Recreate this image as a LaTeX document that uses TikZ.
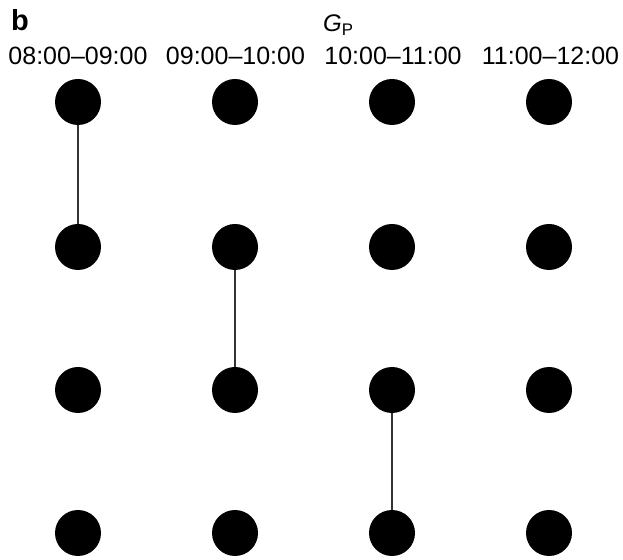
\documentclass[tikz,border=0pt]{standalone}
\usepackage{fontspec}
\setmainfont{Liberation Sans}
\begin{document}
\begin{tikzpicture}[x=1pt,y=1pt,
  dot/.style={circle,fill=black,minimum size=46pt,inner sep=0pt},
  lbl/.style={font=\fontsize{25}{30}\selectfont,inner sep=0pt,anchor=base},
  link/.style={line width=1.5pt,black!80}]
\useasboundingbox (0,0) rectangle (623,559);
\node[font=\fontsize{29}{34}\selectfont\bfseries,anchor=base west,inner sep=0pt] (b) at (11,528) {b};
\node[font=\fontsize{24}{28}\selectfont,anchor=base west,inner sep=0pt] (gp) at (323,527) {\textit{G}\textsubscript{P}};
\foreach \lab [count=\i] in {08:00--09:00,09:00--10:00,10:00--11:00,11:00--12:00}{
  \node[lbl] (t\i) at ({78+157.5*(\i-1)},494) {\lab};
}
\foreach \c in {1,...,4}{
  \foreach \r/\y in {1/457,2/312,3/169,4/26}{
    \node[dot] (n\c\r) at ({78+157*(\c-1)},\y) {};
  }
}
\draw[link] (n11) -- (n12);
\draw[link] (n22) -- (n23);
\draw[link] (n33) -- (n34);
\end{tikzpicture}
\end{document}
